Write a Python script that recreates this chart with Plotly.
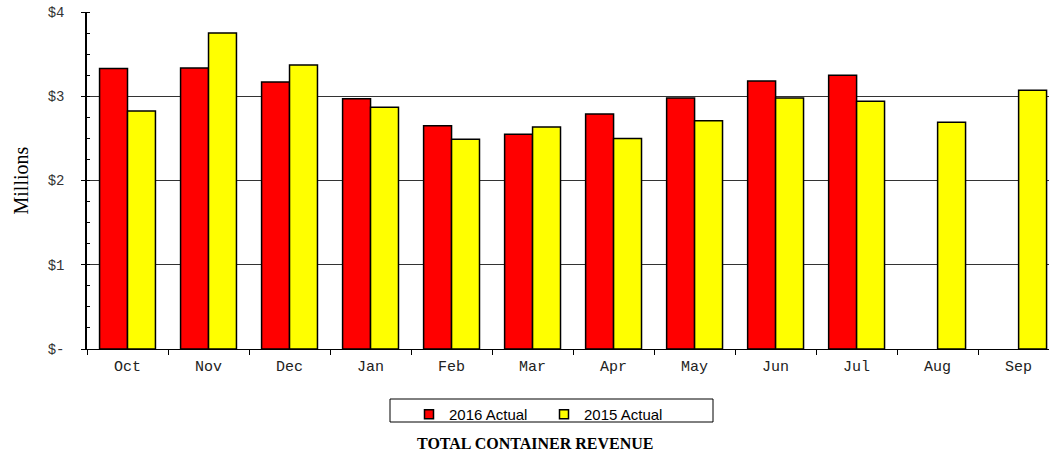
import plotly.graph_objects as go

months = ["Oct", "Nov", "Dec", "Jan", "Feb", "Mar", "Apr", "May", "Jun", "Jul", "Aug", "Sep"]
actual_2016 = [3.33, 3.335, 3.17, 2.97, 2.65, 2.55, 2.79, 2.98, 3.18, 3.25, None, None]
actual_2015 = [2.825, 3.75, 3.37, 2.87, 2.49, 2.635, 2.50, 2.71, 2.98, 2.94, 2.69, 3.07]
y_tickvals = [0, 1, 2, 3, 4]
y_ticktext = ["$-", "$1", "$2", "$3", "$4"]

PL, PT, PW, PH = 87, 12, 962, 337

def px_x(x):
    return (x - PL) / PW

def px_y(y):
    return (PT + PH - y) / PH

series = [("2016 Actual", actual_2016, "#FF0000"), ("2015 Actual", actual_2015, "#FFFF00")]

fig = go.Figure()
for name, vals, col in series:
    fig.add_trace(go.Bar(x=months, y=vals, name=name, showlegend=False,
                         marker=dict(color=col, line=dict(color="#000000", width=1.5))))
for name, vals, col in series:
    fig.add_trace(go.Scatter(x=[None], y=[None], mode="markers", name=name,
                             marker=dict(symbol="square", size=9, color=col,
                                         line=dict(color="#000", width=1.5))))

fig.update_layout(
    width=1049, height=452,
    margin=dict(l=PL, r=0, t=PT, b=452 - PT - PH, autoexpand=False),
    plot_bgcolor="white", paper_bgcolor="white",
    barmode="group", bargap=0.31, bargroupgap=0,
    showlegend=True,
    legend=dict(orientation="h", x=px_x(544), xanchor="center", y=px_y(398), yanchor="top",
                bgcolor="rgba(0,0,0,0)", borderwidth=0,
                font=dict(family="Liberation Sans, Arial", size=15, color="#000"),
                entrywidth=90, itemwidth=30, tracegroupgap=0),
    shapes=[dict(type="rect", xref="paper", yref="paper",
                 x0=px_x(390), x1=px_x(713), y0=px_y(399), y1=px_y(422),
                 line=dict(color="#000", width=1), fillcolor="rgba(0,0,0,0)", layer="below")],
    xaxis=dict(range=[-0.5, 11.375], showline=True, linecolor="#000", linewidth=1,
               ticks="outside", ticklen=5, tickcolor="#000", tickson="boundaries",
               showgrid=False, ticklabelstandoff=3,
               tickfont=dict(family="Liberation Mono, Courier New", size=15, color="#222")),
    yaxis=dict(range=[0, 4], tickvals=y_tickvals, ticktext=y_ticktext,
               showline=True, linecolor="#000", linewidth=1.5,
               ticks="outside", ticklen=4, tickcolor="#000",
               ticklabelstandoff=14,
               showgrid=True, gridcolor="#333", gridwidth=1,
               zeroline=False,
               minor=dict(ticks="inside", ticklen=3, dtick=0.25, tickcolor="#000", showgrid=False),
               tickfont=dict(family="Liberation Mono, Courier New", size=14, color="#333")),
    annotations=[
        dict(text="Millions", xref="paper", yref="paper", x=px_x(20), y=0.5,
             xanchor="center", yanchor="middle", textangle=-90, showarrow=False,
             font=dict(family="Liberation Serif, Times New Roman", size=20, color="#000")),
        dict(text="<b>TOTAL CONTAINER REVENUE</b>", xref="paper", yref="paper",
             x=px_x(535), y=px_y(443), xanchor="center", yanchor="middle",
             showarrow=False,
             font=dict(family="Liberation Serif, Times New Roman", size=16, color="#000")),
    ],
)

fig.write_html("out.html", config={"displayModeBar": False},
               post_script="document.body.style.margin='0';document.body.style.padding='0';")
